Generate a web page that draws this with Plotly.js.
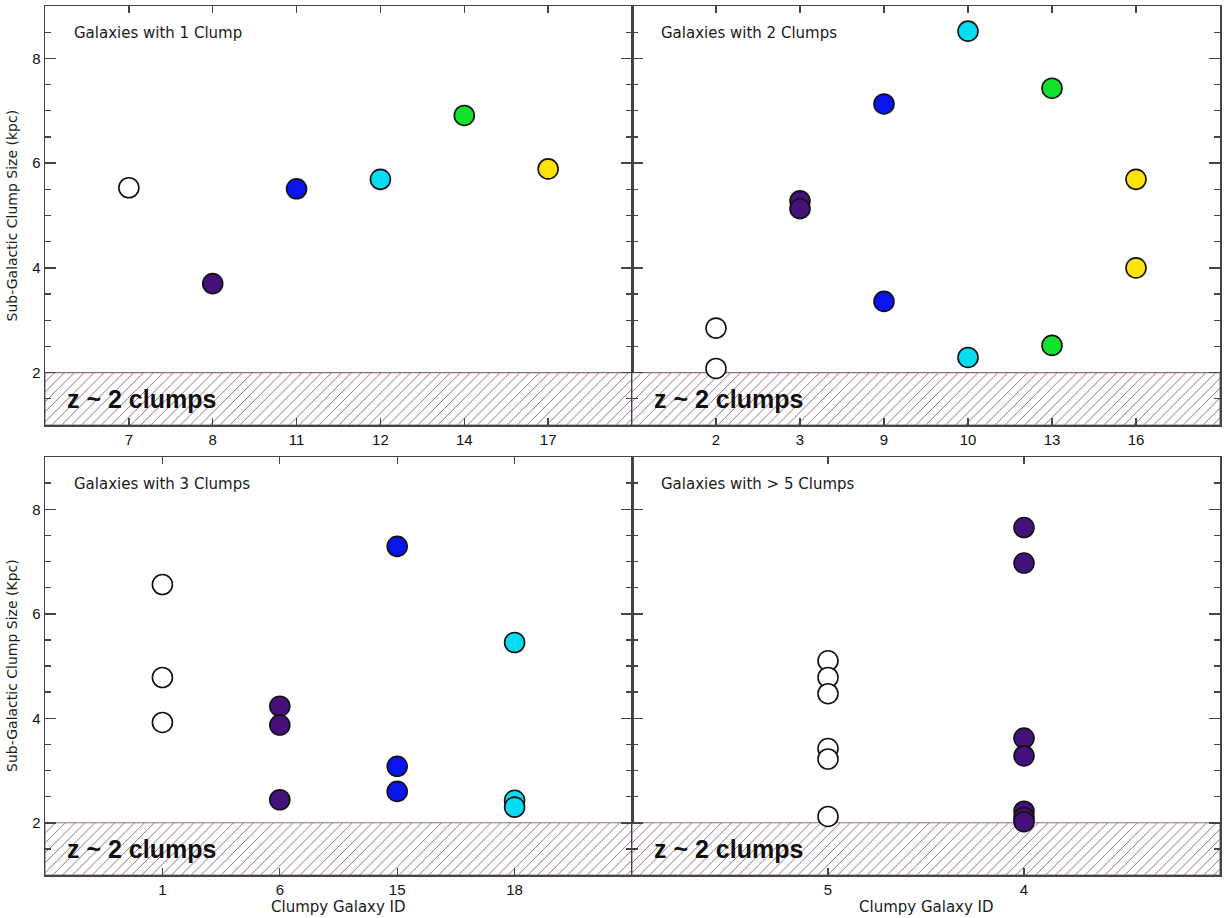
<!DOCTYPE html>
<html>
<head>
<meta charset="utf-8">
<script src="https://cdn.plot.ly/plotly-3.0.1.min.js"></script>
<style>
  html, body { margin: 0; padding: 0; background: #ffffff; }
  #chart { width: 1225px; height: 918px; }
</style>
</head>
<body>
<div id="chart"></div>
<script>
// ---------------- DATA ----------------
// Panel 1: Galaxies with 1 clump
const p1Ids    = ['7', '8', '11', '12', '14', '17'];
const p1Colors = ['white', 'purple', 'blue', 'cyan', 'green', 'yellow'];
const p1Sizes  = [[5.53], [3.70], [5.51], [5.69], [6.91], [5.89]];

// Panel 2: Galaxies with 2 clumps
const p2Ids    = ['2', '3', '9', '10', '13', '16'];
const p2Colors = ['white', 'purple', 'blue', 'cyan', 'green', 'yellow'];
const p2Sizes  = [[2.85, 2.08], [5.28, 5.13], [7.13, 3.36], [8.52, 2.29], [7.43, 2.52], [5.69, 4.00]];

// Panel 3: Galaxies with 3 clumps
const p3Ids    = ['1', '6', '15', '18'];
const p3Colors = ['white', 'purple', 'blue', 'cyan'];
const p3Sizes  = [[6.56, 4.78, 3.92], [4.23, 3.87, 2.44], [7.29, 3.08, 2.60], [5.45, 2.43, 2.30]];

// Panel 4: Galaxies with >5 clumps
const p4Ids    = ['5', '4'];
const p4Colors = ['white', 'purple'];
const p4Sizes  = [[5.10, 4.78, 4.47, 3.42, 3.22, 2.12], [7.65, 6.97, 3.62, 3.28, 2.22, 2.10, 2.02]];

const panelTitles = ['Galaxies with 1 Clump', 'Galaxies with 2 Clumps', 'Galaxies with 3 Clumps', 'Galaxies with > 5 Clumps'];
const yTitles     = ['Sub-Galactic Clump Size (kpc)', 'Sub-Galactic Clump Size (Kpc)'];
const xTitle      = 'Clumpy Galaxy ID';
const bandLabel   = 'z ~ 2 clumps';
const bandSize    = [1, 2];          // z~2 clump size range (kpc)
const yRange      = [1, 9];
const yLabelVals  = [2, 4, 6, 8];
const yAllTicks   = [1.5, 2, 2.5, 3, 3.5, 4, 4.5, 5, 5.5, 6, 6.5, 7, 7.5, 8, 8.5];

// ---------------- STYLE ----------------
const palette = {
  white:  '#ffffff',
  purple: '#45107a',
  blue:   '#0a14ee',
  cyan:   '#05dcf2',
  green:  '#12e22e',
  yellow: '#ffe20a'
};
const axisColor = '#444444';
const tickFont  = { family: 'Liberation Sans, Arial, sans-serif', size: 15, color: '#111' };
const textFont  = { family: 'DejaVu Sans, Arial, sans-serif', size: 15, color: '#1a1a1a' };

const panels = [
  { ids: p1Ids, colors: p1Colors, sizes: p1Sizes },
  { ids: p2Ids, colors: p2Colors, sizes: p2Sizes },
  { ids: p3Ids, colors: p3Colors, sizes: p3Sizes },
  { ids: p4Ids, colors: p4Colors, sizes: p4Sizes }
];

const W = 1225, H = 918;
const xDomL = [45 / W, 632 / W], xDomR = [632 / W, 1220 / W];
const yDomT = [(H - 425) / H, (H - 6) / H], yDomB = [(H - 875) / H, (H - 457) / H];

const traces = [];
const annotations = [];
const layout = {
  width: W, height: H,
  margin: { l: 0, r: 0, t: 0, b: 0 },
  paper_bgcolor: '#ffffff', plot_bgcolor: '#ffffff',
  showlegend: false,
  annotations: annotations
};

panels.forEach((p, i) => {
  const n = p.ids.length;
  const xr = [-1, n];
  const sfx = i === 0 ? '' : String(i + 1);
  const xa = 'x' + sfx, ya = 'y' + sfx;
  const left = (i % 2 === 0);
  const top  = (i < 2);

  // hatched band
  traces.push({
    type: 'scatter', mode: 'lines', xaxis: xa, yaxis: ya,
    x: [xr[0], xr[1], xr[1], xr[0], xr[0]],
    y: [bandSize[0], bandSize[0], bandSize[1], bandSize[1], bandSize[0]],
    fill: 'toself', fillcolor: 'rgba(255,255,255,0)',
    fillpattern: { shape: '/', fgcolor: '#8c6e8c', bgcolor: '#ffffff', size: 7, solidity: 0.14 },
    line: { color: '#8c6e8c', width: 1.2 },
    hoverinfo: 'skip'
  });
  // markers
  const xs = [], ys = [], cs = [];
  p.ids.forEach((id, k) => {
    p.sizes[k].forEach(v => { xs.push(k); ys.push(v); cs.push(palette[p.colors[k]]); });
  });
  traces.push({
    type: 'scatter', mode: 'markers', xaxis: xa, yaxis: ya,
    x: xs, y: ys,
    marker: { size: 20, color: cs, line: { color: '#111', width: 1.6 } }
  });

  layout['xaxis' + sfx] = {
    domain: left ? xDomL : xDomR,
    anchor: ya,
    range: xr,
    tickmode: 'array',
    tickvals: p.ids.map((_, k) => k),
    ticktext: p.ids,
    ticks: 'inside', ticklen: 7, tickwidth: 1.4, tickcolor: axisColor,
    showline: true, linecolor: axisColor, linewidth: 1.5, mirror: 'ticks',
    showgrid: false, zeroline: false,
    tickfont: tickFont
  };
  // main y axis: short ticks every 0.5, labels on 2,4,6,8; long ticks at labels via minor
  layout['yaxis' + sfx] = {
    domain: top ? yDomT : yDomB,
    anchor: xa,
    range: yRange,
    tickmode: 'array', tickvals: yAllTicks,
    ticktext: yAllTicks.map(v => (yLabelVals.indexOf(v) >= 0 ? String(v) : '')),
    ticks: 'inside', ticklen: 6, tickwidth: 1.3, tickcolor: axisColor,
    minor: { tickmode: 'array', tickvals: yLabelVals, ticks: 'inside', ticklen: 11, tickwidth: 1.5, tickcolor: axisColor },
    showline: true, linecolor: axisColor, linewidth: 1.5, mirror: 'ticks',
    showgrid: false, zeroline: false,
    showticklabels: left,
    tickfont: tickFont
  };

  annotations.push({
    xref: xa + ' domain', yref: ya + ' domain',
    x: 27 / 587, y: 1 - 27 / 419, xanchor: 'left', yanchor: 'middle',
    text: panelTitles[i], showarrow: false, font: textFont
  });
  annotations.push({
    xref: xa + ' domain', yref: ya,
    x: 20 / 587, y: (bandSize[0] + bandSize[1]) / 2, xanchor: 'left', yanchor: 'middle',
    text: '<b>' + bandLabel + '</b>', showarrow: false,
    font: { family: 'Liberation Sans, Arial, sans-serif', size: 25, color: '#111' }
  });
  if (left) {
    annotations.push({
      xref: 'paper', yref: ya + ' domain',
      x: 12 / W, y: 0.5, xanchor: 'center', yanchor: 'middle', textangle: -90,
      text: yTitles[top ? 0 : 1], showarrow: false,
      font: { family: 'DejaVu Sans, Arial, sans-serif', size: 14, color: '#1a1a1a' }
    });
  }
  if (!top) {
    annotations.push({
      xref: xa + ' domain', yref: 'paper',
      x: 0.5, y: (H - 907) / H, xanchor: 'center', yanchor: 'middle',
      text: xTitle, showarrow: false, font: textFont
    });
  }
});

Plotly.newPlot('chart', traces, layout, { staticPlot: true, displayModeBar: false });
</script>
</body>
</html>
